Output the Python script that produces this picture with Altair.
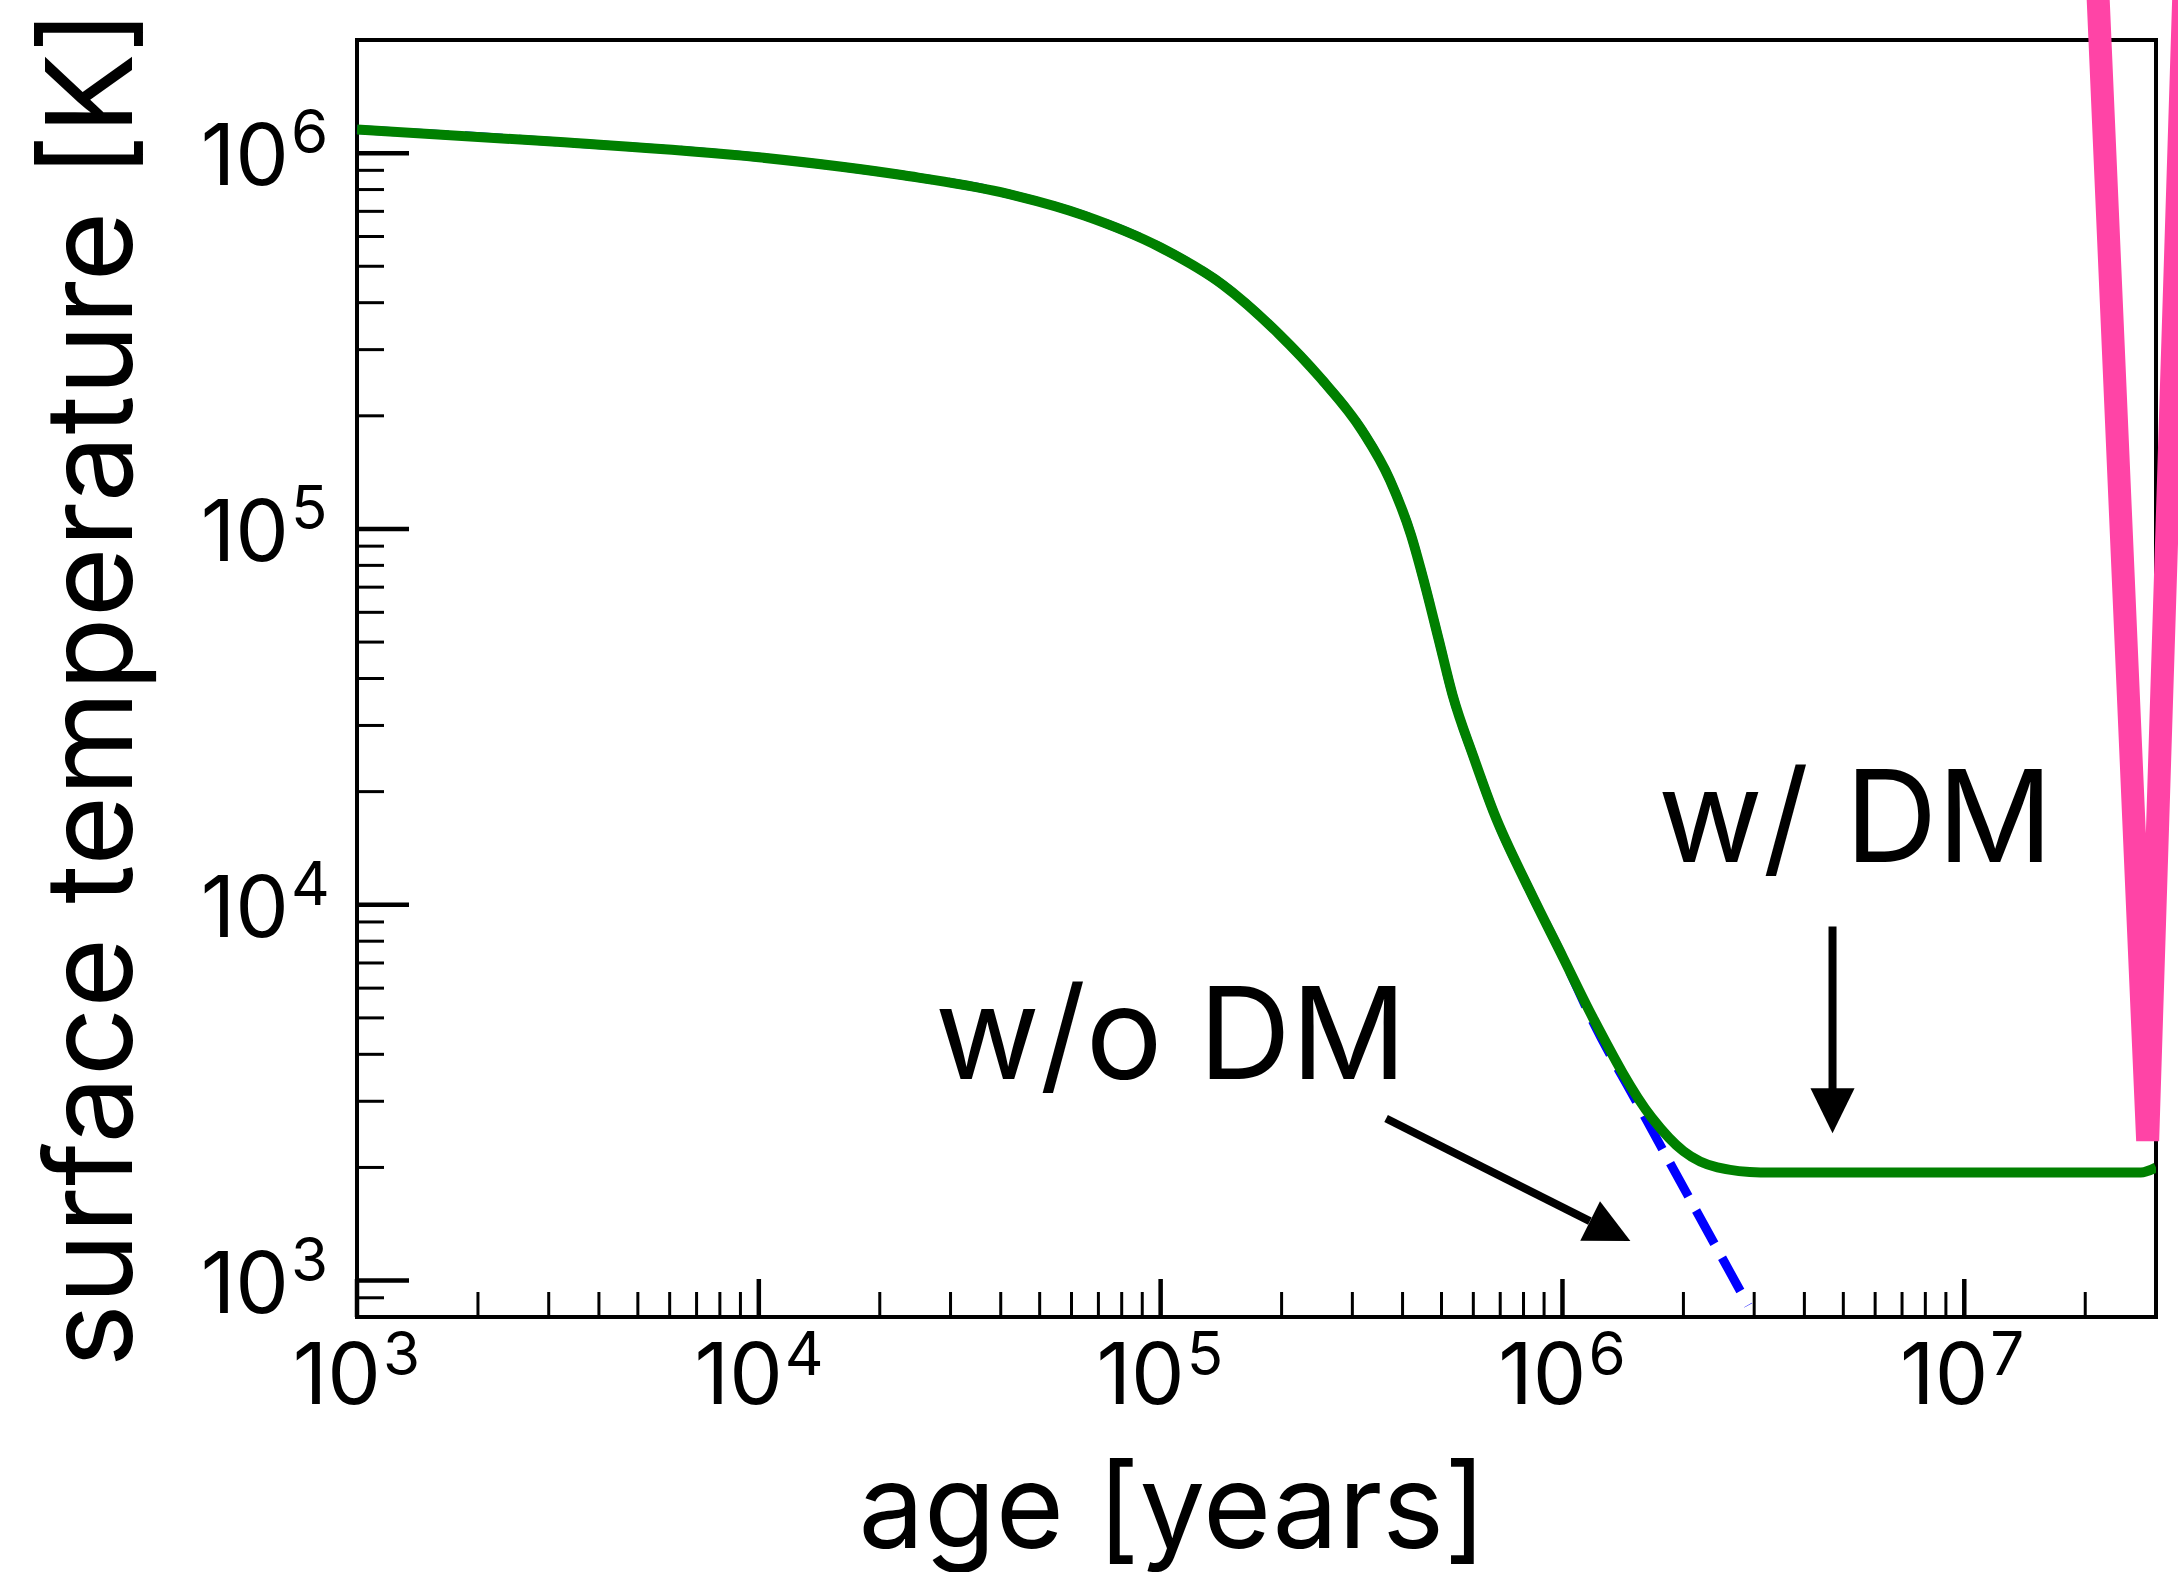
import altair as alt
import pandas as pd

# ---------------- data ----------------
green_age = [1.0e3, 3.13e3, 1.0e4, 2.29e4, 4.0e4, 6.46e4, 1.0e5, 1.43e5, 1.97e5, 2.50e5,
             3.18e5, 3.72e5, 4.20e5, 4.54e5, 4.92e5, 5.33e5, 6.01e5, 6.76e5, 8.26e5, 1.0e6,
             1.19e6, 1.67e6, 2.00e6, 2.43e6, 3.11e6, 9.02e6, 2.75e7, 3.0e7]
green_temp = [1.156e6, 1.072e6, 9.75e5, 8.73e5, 7.87e5, 6.82e5, 5.61e5, 4.46e5, 3.30e5, 2.52e5,
              1.82e5, 1.35e5, 9.62e4, 7.14e4, 5.08e4, 3.61e4, 2.47e4, 1.75e4, 1.10e4, 7.29e3,
              5.01e3, 2.71e3, 2.21e3, 2.00e3, 1.94e3, 1.94e3, 1.94e3, 2.0e3]

blue_age = green_age[:20] + [1.19e6, 1.57e6, 2.90e6]
blue_temp = green_temp[:20] + [4.89e3, 2.84e3, 859]

pink_age = [2.00e7, 2.86e7, 3.71e7]
pink_temp = [1.6e7, 2355, 1.6e7]

# annotation arrows
arrow_id = ["a1", "a1", "a2", "a2"]
arrow_age = [3.64e5, 1.17e6, 4.70e6, 4.70e6]
arrow_temp = [2.70e3, 1.44e3, 8.75e3, 3.21e3]
head_age = [1.315e6, 4.70e6]
head_temp = [1.355e3, 2.83e3]
head_angle = [116.6, 180]

label_text = ["w/o DM", "w/ DM"]
label_age = [1.06e5, 5.36e6]
label_temp = [3.44e3, 1.30e4]

# ticks
x_major = [1e3, 1e4, 1e5, 1e6, 1e7]
x_exp = ["3", "4", "5", "6", "7"]
x_minor = [m * 10 ** k for k in range(3, 8) for m in range(2, 10) if m * 10 ** k < 2.9e7]
y_major = [1e3, 1e4, 1e5, 1e6]
y_exp = ["3", "4", "5", "6"]
y_minor = [9e2] + [m * 10 ** k for k in range(3, 7) for m in range(2, 10) if m * 10 ** k < 1.99e6]

W, H = 1799, 1277
FONT = "Inter"

xs = alt.Scale(type="log", domain=[1e3, 3e7], nice=False)
ys = alt.Scale(type="log", domain=[800, 2e6], nice=False)

green_df = pd.DataFrame({"age": green_age, "temp": green_temp})
blue_df = pd.DataFrame({"age": blue_age, "temp": blue_temp})
pink_df = pd.DataFrame({"age": pink_age, "temp": pink_temp})
arrow_df = pd.DataFrame({"id": arrow_id, "age": arrow_age, "temp": arrow_temp})
head_df = pd.DataFrame({"age": head_age, "temp": head_temp, "angle": head_angle})
label_df = pd.DataFrame({"text": label_text, "age": label_age, "temp": label_temp})
xmaj_df = pd.DataFrame({"v": x_major, "e": x_exp})
xmin_df = pd.DataFrame({"v": x_minor})
ymaj_df = pd.DataFrame({"v": y_major, "e": y_exp})
ymin_df = pd.DataFrame({"v": y_minor})

x_axis = alt.Axis(title="age [years]", domain=False, ticks=False, labels=False, grid=False,
                  titleFont=FONT, titleFontSize=117, titleFontWeight="normal", titleColor="black",
                  titleX=815, titleY=230, titleBaseline="alphabetic", titleAlign="center")
y_axis = alt.Axis(title="surface temperature [K]", domain=False, ticks=False, labels=False, grid=False,
                  titleFont=FONT, titleFontSize=120, titleFontWeight="normal", titleColor="black",
                  titleX=-226, titleY=648, titleAngle=270, titleBaseline="alphabetic", titleAlign="center")

blue = alt.Chart(blue_df).mark_line(color="#0000ff", strokeWidth=9, strokeDash=[38, 16],
                                    interpolate="monotone").encode(
    x=alt.X("age:Q", scale=xs, axis=x_axis),
    y=alt.Y("temp:Q", scale=ys, axis=y_axis),
)
green = alt.Chart(green_df).mark_line(color="#008000", strokeWidth=10, clip=True,
                                      interpolate="monotone").encode(
    x=alt.X("age:Q", scale=xs), y=alt.Y("temp:Q", scale=ys))
pink = alt.Chart(pink_df).mark_line(color="#ff44a6", strokeWidth=23).encode(
    x=alt.X("age:Q", scale=xs), y=alt.Y("temp:Q", scale=ys))

arrows = alt.Chart(arrow_df).mark_line(color="black", strokeWidth=8).encode(
    x=alt.X("age:Q", scale=xs), y=alt.Y("temp:Q", scale=ys), detail="id:N")
heads = alt.Chart(head_df).mark_point(shape="M0,-1L0.98,1L-0.98,1Z", filled=True, color="black",
                                      size=2025, opacity=1, strokeWidth=0).encode(
    x=alt.X("age:Q", scale=xs), y=alt.Y("temp:Q", scale=ys), angle=alt.Angle("angle:Q", scale=None))
labels = alt.Chart(label_df).mark_text(font=FONT, fontSize=128, align="center", baseline="alphabetic",
                                       color="black").encode(
    x=alt.X("age:Q", scale=xs), y=alt.Y("temp:Q", scale=ys), text="text:N")

# ticks (inward)
xmin_t = alt.Chart(xmin_df).mark_rule(color="black", strokeWidth=3).encode(
    x=alt.X("v:Q", scale=xs), y=alt.value(H), y2=alt.value(H - 25))
xmaj_t = alt.Chart(xmaj_df).mark_rule(color="black", strokeWidth=4.5).encode(
    x=alt.X("v:Q", scale=xs), y=alt.value(H), y2=alt.value(H - 38))
ymin_t = alt.Chart(ymin_df).mark_rule(color="black", strokeWidth=3).encode(
    y=alt.Y("v:Q", scale=ys), x=alt.value(0), x2=alt.value(27))
ymaj_t = alt.Chart(ymaj_df).mark_rule(color="black", strokeWidth=4.5).encode(
    y=alt.Y("v:Q", scale=ys), x=alt.value(0), x2=alt.value(52))

# tick labels: "10" + superscript exponent
xl10 = alt.Chart(xmaj_df).mark_text(font=FONT, fontSize=85, align="right", baseline="alphabetic",
                                    dx=24, dy=87, color="black").encode(
    x=alt.X("v:Q", scale=xs), y=alt.value(H), text=alt.value("10"))
xlexp = alt.Chart(xmaj_df).mark_text(font=FONT, fontSize=60, align="left", baseline="alphabetic",
                                     dx=26, dy=58, color="black").encode(
    x=alt.X("v:Q", scale=xs), y=alt.value(H), text="e:N")
yl10 = alt.Chart(ymaj_df).mark_text(font=FONT, fontSize=85, align="right", baseline="alphabetic",
                                    dx=-68, dy=32, color="black").encode(
    y=alt.Y("v:Q", scale=ys), x=alt.value(0), text=alt.value("10"))
ylexp = alt.Chart(ymaj_df).mark_text(font=FONT, fontSize=60, align="left", baseline="alphabetic",
                                     dx=-66, dy=0, color="black").encode(
    y=alt.Y("v:Q", scale=ys), x=alt.value(0), text="e:N")

chart = alt.layer(
    blue, green, xmin_t, xmaj_t, ymin_t, ymaj_t, arrows, heads, labels,
    xl10, xlexp, yl10, ylexp, pink
).properties(
    width=W, height=H,
    autosize=alt.AutoSizeParams(type="none"),
    padding={"left": 357, "top": 40, "right": 22, "bottom": 255},
    background="white",
).configure_view(stroke="black", strokeWidth=4)

chart.save("out.html", embed_options={"renderer": "svg", "actions": False})
